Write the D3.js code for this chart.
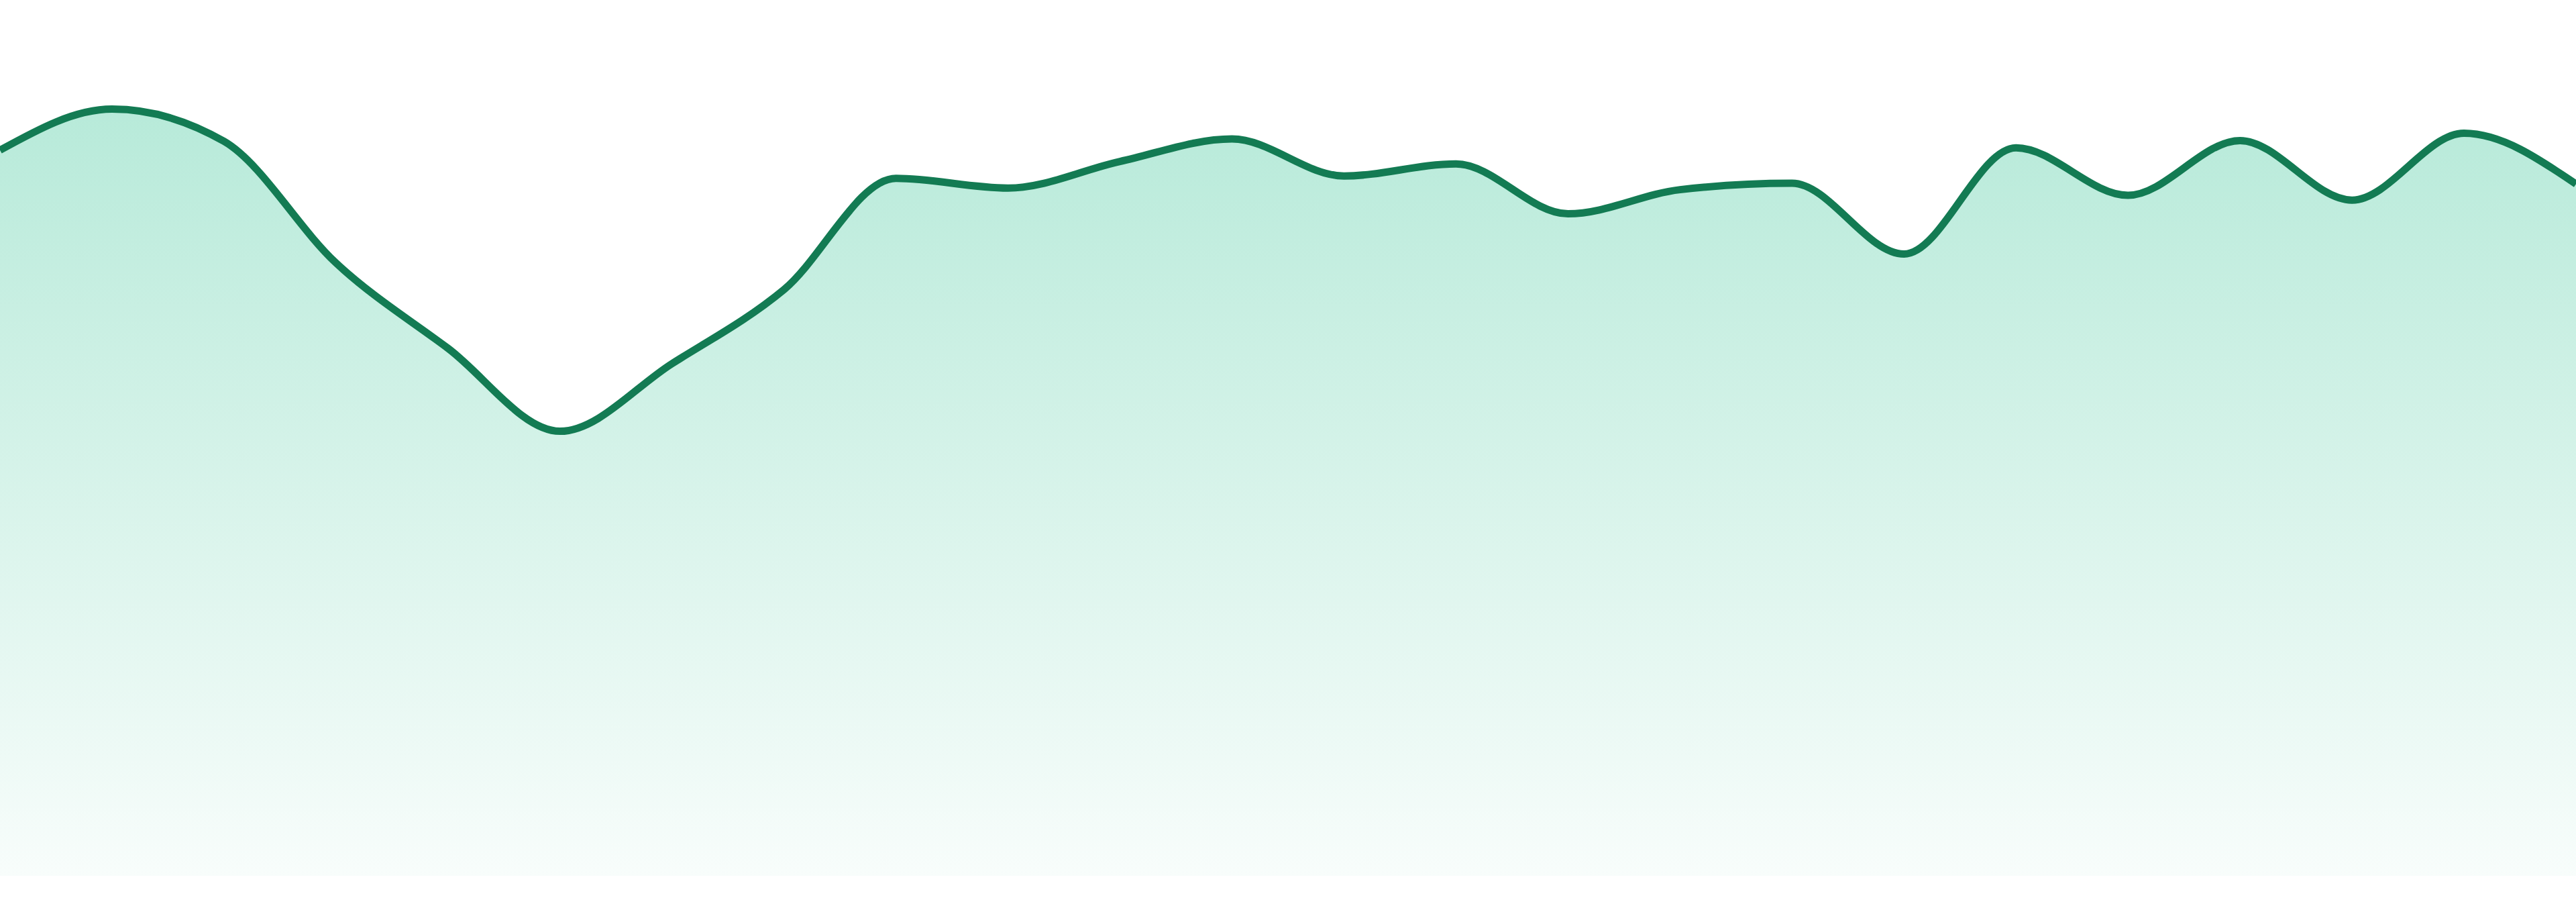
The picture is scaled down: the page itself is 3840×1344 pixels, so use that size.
<!DOCTYPE html>
<html>
<head>
<meta charset="utf-8">
<script src="https://cdn.jsdelivr.net/npm/d3@7"></script>
<style>
  html, body { margin: 0; padding: 0; background: #ffffff; }
  svg { display: block; }
</style>
</head>
<body>
<div id="chart-area"><svg></svg></div>
<script>
const chartSize = { width: 3840, height: 1344 };
const margin = { left: 0, right: 0, top: 105, bottom: 39 };
const height = chartSize.height - margin.top - margin.bottom;
const width = chartSize.width - margin.left - margin.right;

// one point per period, left to right
const periods = [
  "P01", "P02", "P03", "P04", "P05", "P06", "P07", "P08",
  "P09", "P10", "P11", "P12", "P13", "P14", "P15", "P16",
  "P17", "P18", "P19", "P20", "P21", "P22", "P23", "P24"
];

const values = [
  90.1, 95.2, 91.2, 76.1, 65.5, 55.2, 63.6, 72.8,
  86.6, 85.4, 88.7, 91.5, 86.9, 88.4, 82.2, 85.2,
  86.0, 77.2, 90.4, 84.5, 91.3, 83.9, 92.2, 85.9
];

const yDomain = [0, 100];

const drawChart = () => {
  const svg = d3
    .select("#chart-area svg")
    .attr("width", chartSize.width)
    .attr("height", chartSize.height);

  const data = periods.map((p, i) => ({ period: p, value: values[i] }));

  const x = d3.scalePoint().domain(periods).range([0, width]);
  const y = d3.scaleLinear().domain(yDomain).range([height, 0]);

  const defs = svg.append("defs");
  const grad = defs
    .append("linearGradient")
    .attr("id", "area-fill")
    .attr("gradientUnits", "userSpaceOnUse")
    .attr("x1", 0)
    .attr("x2", 0)
    .attr("y1", y(d3.max(values)))
    .attr("y2", height);

  grad.append("stop").attr("offset", "0%").attr("stop-color", "#10b981").attr("stop-opacity", 0.3);
  grad.append("stop").attr("offset", "100%").attr("stop-color", "#10b981").attr("stop-opacity", 0.03);

  const g = svg
    .append("g")
    .attr("transform", `translate(${margin.left},${margin.top})`);

  const area = d3
    .area()
    .curve(d3.curveMonotoneX)
    .x(d => x(d.period))
    .y0(height)
    .y1(d => y(d.value));

  const line = d3
    .line()
    .curve(d3.curveMonotoneX)
    .x(d => x(d.period))
    .y(d => y(d.value));

  g.append("path")
    .attr("class", "area")
    .attr("fill", "url(#area-fill)")
    .attr("d", area(data));

  g.append("path")
    .attr("class", "line")
    .attr("fill", "none")
    .attr("stroke", "#137b53")
    .attr("stroke-width", 11)
    .attr("stroke-linejoin", "round")
    .attr("d", line(data));
};

window.onload = drawChart;
</script>
</body>
</html>
